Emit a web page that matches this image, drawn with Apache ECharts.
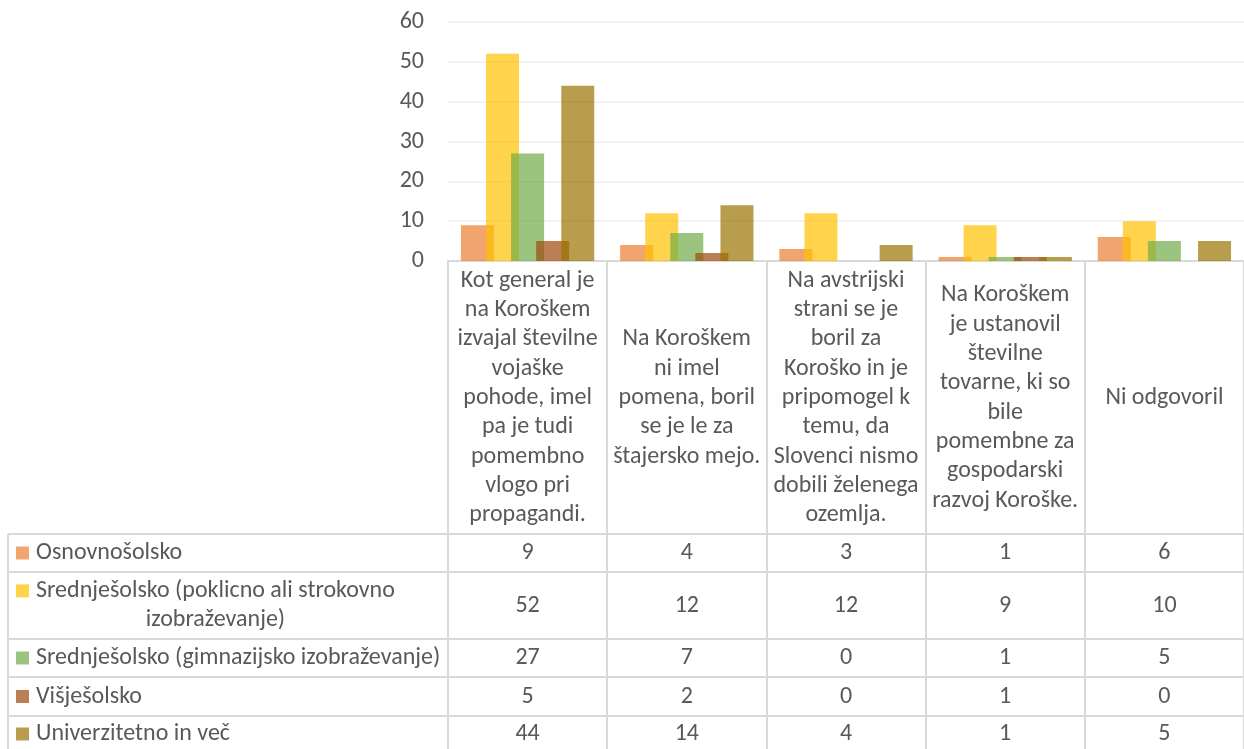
<!DOCTYPE html>
<html>
<head>
<meta charset="utf-8">
<script src="https://cdn.jsdelivr.net/npm/echarts@6/dist/echarts.min.js"></script>
<style>
  html, body { margin: 0; padding: 0; background: #fff; }
  #chart { width: 1244px; height: 749px; }
</style>
</head>
<body>
<div id="chart"></div>
<script>
// odgovori (kategorije)
const categories = [
  'Kot general je\nna Koroškem\nizvajal številne\nvojaške\npohode, imel\npa je tudi\npomembno\nvlogo pri\npropagandi.',
  'Na Koroškem\nni imel\npomena, boril\nse je le za\nštajersko mejo.',
  'Na avstrijski\nstrani se je\nboril za\nKoroško in je\npripomogel k\ntemu, da\nSlovenci nismo\ndobili želenega\nozemlja.',
  'Na Koroškem\nje ustanovil\nštevilne\ntovarne, ki so\nbile\npomembne za\ngospodarski\nrazvoj Koroške.',
  'Ni odgovoril'
];

// izobrazba (serije)
const seriesNames = [
  'Osnovnošolsko',
  'Srednješolsko (poklicno ali strokovno\nizobraževanje)',
  'Srednješolsko (gimnazijsko izobraževanje)',
  'Višješolsko',
  'Univerzitetno in več'
];
const osnovno = [9, 4, 3, 1, 6];
const srednjePoklicno = [52, 12, 12, 9, 10];
const srednjeGimnazija = [27, 7, 0, 1, 5];
const visje = [5, 2, 0, 1, 0];
const univerza = [44, 14, 4, 1, 5];
const yTicks = [0, 10, 20, 30, 40, 50, 60];

const seriesData = [osnovno, srednjePoklicno, srednjeGimnazija, visje, univerza];
const colors = ['#ED7D31', '#FFC000', '#70AD47', '#9E480E', '#997300'];

const FONT = 'Carlito, Lato, sans-serif';
const FS = 24;
const LH = 29.3;
const TXT = '#595959';
const LINE = '#D9D9D9';

const chart = echarts.init(document.getElementById('chart'), null, { renderer: 'canvas' });

chart.setOption({
  animation: false,
  textStyle: { fontFamily: FONT },
  grid: { left: 448, top: 22, width: 805, height: 239 },
  xAxis: {
    type: 'category',
    data: categories,
    axisLine: { lineStyle: { color: LINE, width: 2 } },
    axisTick: { show: true, interval: 0, length: 490, lineStyle: { color: LINE, width: 2 } },
    axisLabel: {
      interval: 0, color: TXT, fontSize: FS, fontFamily: FONT, lineHeight: LH,
      margin: 137, verticalAlign: 'middle', align: 'center'
    }
  },
  yAxis: {
    type: 'value',
    min: yTicks[0], max: yTicks[yTicks.length - 1], interval: 10,
    axisLine: { show: false },
    axisTick: { show: false },
    axisLabel: { color: TXT, fontSize: FS, fontFamily: FONT, margin: 24 },
    splitLine: { lineStyle: { color: '#F2F2F2', width: 2 } }
  },
  series: seriesNames.map((name, i) => ({
    name: name,
    type: 'bar',
    data: seriesData[i],
    barWidth: 33,
    barGap: '-24%',
    itemStyle: { color: colors[i], opacity: 0.7 }
  }))
});

// podatkovna tabela pod grafom
const rowLines = [534, 572, 639, 677, 716, 752];
const measure = document.createElement('canvas').getContext('2d');
measure.font = FS + 'px ' + FONT;

const graphics = [];
rowLines.slice(0, 5).forEach(y => {
  graphics.push({ type: 'line', silent: true, shape: { x1: 8, y1: y, x2: 1244, y2: y },
    style: { stroke: LINE, lineWidth: 2 } });
});
graphics.push({ type: 'line', silent: true, shape: { x1: 8, y1: 534, x2: 8, y2: 749 },
  style: { stroke: LINE, lineWidth: 2 } });

seriesNames.forEach((name, i) => {
  const cy = (rowLines[i] + rowLines[i + 1]) / 2;
  const lines = name.split('\n');
  const firstY = cy - (lines.length - 1) * LH / 2;
  const w = Math.max.apply(null, lines.map(l => measure.measureText(l).width));
  graphics.push({ type: 'rect', silent: true, shape: { x: 16, y: firstY - 6.5, width: 13, height: 13 },
    style: { fill: colors[i], opacity: 0.7 } });
  graphics.push({ type: 'text', silent: true, x: 36 + w / 2, y: cy,
    style: { text: name, fill: TXT, font: FS + 'px ' + FONT, align: 'center', verticalAlign: 'middle', lineHeight: LH } });
  seriesData[i].forEach((v, j) => {
    const px = chart.convertToPixel({ xAxisIndex: 0 }, j);
    graphics.push({ type: 'text', silent: true, x: px, y: cy,
      style: { text: String(v), fill: TXT, font: FS + 'px ' + FONT, align: 'center', verticalAlign: 'middle' } });
  });
});

chart.setOption({ graphic: graphics });
</script>
</body>
</html>
